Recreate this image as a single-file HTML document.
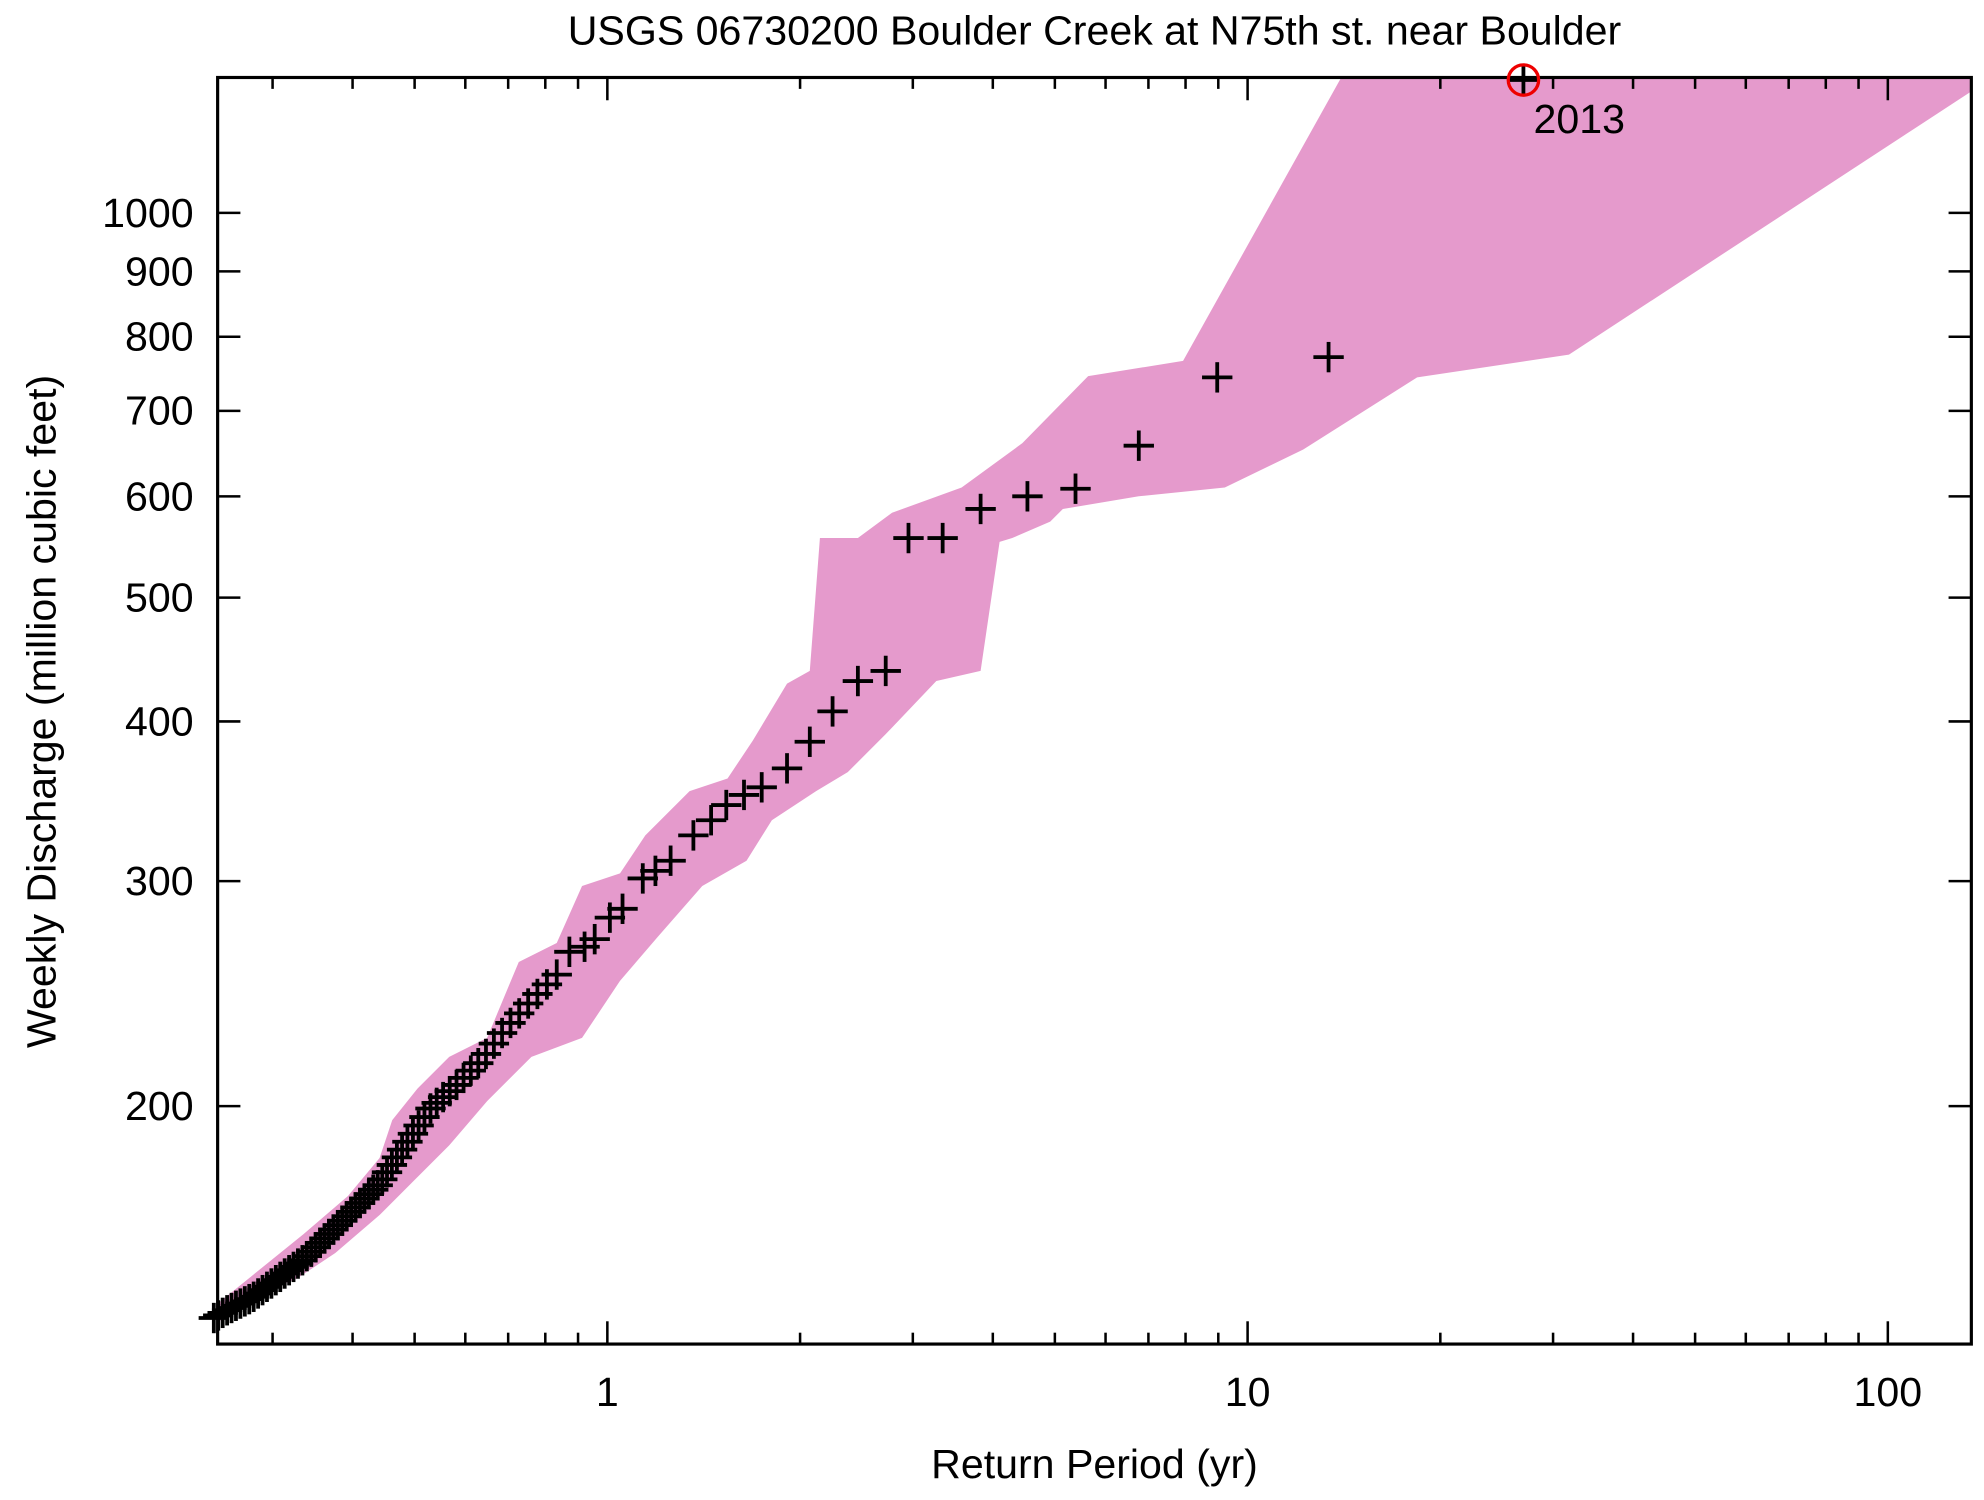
<!DOCTYPE html>
<html><head><meta charset="utf-8"><style>
html,body{margin:0;padding:0;background:#fff}
svg{display:block}
text{font-family:"Liberation Sans",Arial,sans-serif;fill:#000}
</style></head><body>
<svg id="s" width="1984" height="1500" viewBox="0 0 1568 1185" xmlns="http://www.w3.org/2000/svg">
<rect width="1568" height="1185" fill="#fff"/>
<polygon fill="#e59acc" points="172,1030 240,975 275,945 300,915 310,885 330,860 355,835 385,820 410,760 440,745 460,700 490,690 510,660 545,625 575,615 595,585 622,540 640,530 648,425 678,425 705,405 760,385 808,350 860,297 935,285 1060,61 1558,61 1558,72 1240,280 1120,298 1030,355 968,385 900,392 840,402 830,412 800,425 790,428 775,530 740,538 700,580 670,610 645,625 610,648 590,680 555,700 520,740 490,775 460,820 420,835 385,870 355,905 330,930 300,960 265,990 235,1010 200,1025 172,1045"/>
<g id="ticks" stroke="#000" stroke-width="2"></g>
<g id="pts" stroke="#000" stroke-width="3"></g>
<rect x="172" y="61" width="1386" height="1001" fill="none" stroke="#000" stroke-width="2.5"/>
<circle cx="1204" cy="63" r="12" fill="none" stroke="#e00" stroke-width="2.6"/>
<text x="1212" y="105" font-size="32.5">2013</text>
<text x="865" y="35" font-size="32.5" text-anchor="middle">USGS 06730200 Boulder Creek at N75th st. near Boulder</text>
<text x="865" y="1168" font-size="32.5" text-anchor="middle">Return Period (yr)</text>
<text transform="translate(44,562) rotate(-90)" font-size="32.5" text-anchor="middle">Weekly Discharge (million cubic feet)</text>
<g id="lab" font-size="32.5"></g>
</svg>
<script>
var ns="http://www.w3.org/2000/svg";
function el(p,t,a,txt){var e=document.createElementNS(ns,t);for(var k in a)e.setAttribute(k,a[k]);if(txt)e.textContent=txt;document.getElementById(p).appendChild(e);}
function ln(p,x1,y1,x2,y2){el(p,'line',{x1:x1,y1:y1,x2:x2,y2:y2});}
var L=172,R=1558,T=61,B=1062;
function X(v){return 480+506*Math.log10(v);}
function Y(v){return 168-1010*Math.log10(v/1000);}
for(var d=0.1;d<=100;d*=10){for(var m=1;m<10;m++){var v=d*m,x=X(v);if(x<L||x>R)continue;var len=m==1?18:9;ln('ticks',x,B,x,B-len);ln('ticks',x,T,x,T+len);}}
[1,10,100].forEach(function(v){el('lab','text',{x:X(v),y:1111,'text-anchor':'middle'},String(v));});
[200,300,400,500,600,700,800,900,1000].forEach(function(v){var y=Y(v);ln('ticks',L,y,L+18,y);ln('ticks',R,y,R-18,y);el('lab','text',{x:153,y:y+11,'text-anchor':'end'},String(v));});
function cross(x,y){ln('pts',x-12,y,x+12,y);ln('pts',x,y-12,x,y+12);}
[[1204,63],[1050,282],[962,298],[900,352],[850,386],[812,392],[775,402],[745,425],[718,425],[700,530],[678,538],[658,562],[640,586],[622,607],[602,622],[588,628],[574,636],[562,648],[548,660],[530,680],[518,688],[508,694],[492,718],[482,725],[470,742],[462,748],[450,752]].forEach(function(p){cross(p[0],p[1]);});
var c=[[440,770],[420,790],[400,812],[380,838],[360,858],[340,876],[320,905],[300,935],[280,955],[260,975],[240,995],[220,1010],[200,1025],[180,1035],[168,1042]];
function yat(x){for(var i=0;i<c.length-1;i++){if(x<=c[i][0]&&x>=c[i+1][0]){var t=(c[i][0]-x)/(c[i][0]-c[i+1][0]);return c[i][1]+t*(c[i+1][1]-c[i][1]);}}return 1042;}
var x=440,step=8;
while(x>=168){cross(x,yat(x));step=Math.max(3.5,step*0.97);x-=step;}
</script>
</body></html>
